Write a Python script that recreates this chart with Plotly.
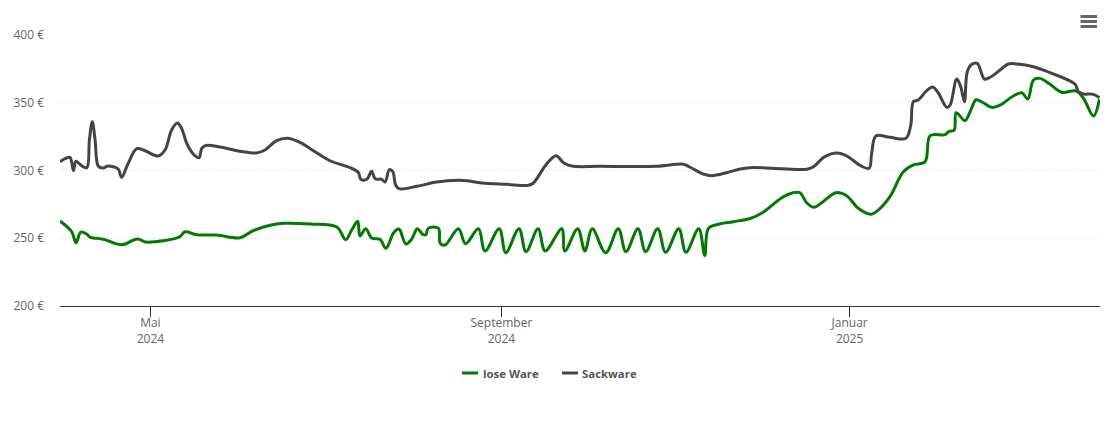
from datetime import datetime, timedelta
import plotly.graph_objects as go

START = datetime(2024, 3, 30, 8)
END_DAY = 364.4

sack_days = [0,1.8,3.5,4.7,5.6,7.6,9.4,10.3,11.3,12.3,13.4,15.2,16.4,18.6,20.4,21.6,23.9,26.9,29.8,34.4,
 36.8,39.1,41.1,42.6,44.4,46.7,48.7,49.7,51.4,56.1,63.1,68.9,71.8,75.9,79.6,84.1,88.8,94.6,101.6,104.5,
 105.4,107.5,109.2,110.4,112.7,113.9,115.4,116.6,117.6,118.8,125,132,139.6,142.5,147.8,156.5,164.1,165.8,170.5,173.8,
 176.4,179.3,189.2,209.1,218.4,220.8,225.4,228.4,233.6,238.3,241.8,253.4,261.6,264,268,272.2,275.7,280.3,283.5,284.4,
 285.9,290.8,296.4,298.1,299,300.7,303.7,305.8,307.8,310.7,311.9,314.2,315.6,316.9,317.9,319.5,321.4,323.9,325.9,329.4,
 332.3,335.3,341.1,346.9,355.7,356.8,358.6,362.1,364.2]
sack_vals = [306.5,308.7,309.7,299.9,306.8,303.5,302.1,322.5,336,322.5,303.3,301.8,303.1,302.8,301.1,295,305.3,316.1,314.6,310.7,
 315.1,329.9,335.1,331.1,320.1,312.2,309.4,316.4,318.6,317.3,314.2,312.9,315.1,322,323.8,320.8,314.6,307.2,302.1,298.7,
 293.5,293.5,299.4,293.9,293.5,291.5,300.6,299.1,289.3,286.6,288.3,291.5,292.8,292.5,290.8,289.8,289.1,290.6,304.8,310.9,
 305.8,303.3,303.1,303.1,304.6,302.4,297.4,296.2,298.4,301.1,302.1,301.3,300.9,302.8,310.2,312.9,310.7,303.8,301.6,312.7,
 325.5,324.5,323.8,333.6,350.8,352,358.9,361.6,357,346.6,348.3,367.5,361.8,350.8,372.9,378.4,379.1,367.5,368.8,374.2,
 378.6,378.6,376.6,372.2,363.6,358.2,356.5,356.2,353.7]

lose_days = [0,4.1,5.6,7.3,9.4,10.5,15.2,21.6,27.1,30.1,36.2,41.8,43.8,47.9,54.9,63.1,67.7,73.6,78.2,87.6,
 97,100.1,102.2,104.3,105.1,107.1,109.2,112.1,114.2,116.8,118.5,119.1,121.2,123.2,125.2,127.1,128.2,129,132.6,133.2,
 134.9,139.6,142.1,146.6,148.9,153.9,156.2,160.8,163.3,167.5,170,175.8,176.9,181.4,183.9,186.5,191.2,195.6,198.3,202.5,
 205.2,209.4,212.2,216.8,219.3,223.8,225.9,227.2,230.7,235.9,241.8,246.4,252.9,256.9,259.3,261.6,264.2,266.9,271.9,275.7,
 279.7,284,286.7,290.8,295.5,299,303.1,304.9,310.1,311.5,313.3,314,317.1,318.9,321,323.5,326.5,329.4,334,337,
 339.1,341.1,343.4,346.9,351,356,358.6,362.1,364.2]
lose_vals = [262.7,254.8,246.7,254.6,252.9,250.9,249.2,245.2,249.4,247.2,248.2,250.9,254.8,252.6,252.4,250.4,255.6,259.6,261,260.5,
 258.3,248.9,256.1,262.5,251.7,257,250.2,249.2,242.6,253.7,256.8,256.1,245.8,249.2,257,252.9,252.6,257.3,257.3,246.3,
 245,257,246,257,240.6,257,239.3,257,240.1,257,240.6,257,240.6,257,240.6,257,239.3,257,240.1,257,
 240.1,257,239.7,257,239.7,257,237.1,257.3,260.3,262.2,264.6,269.2,279.9,283.6,283.6,276.2,272.8,276.2,283.6,281.2,
 272.1,267.7,270.8,280.7,299.1,304.1,306.5,325.7,326.4,328.9,329.7,342.7,336.8,343.4,352.2,350,346.6,348.3,355,357.4,
 352.8,366.8,368,363.6,357.7,358.7,353.3,340.2,352.5]

y_ticks = [200, 250, 300, 350, 400]
y_labels = ["200 €", "250 €", "300 €", "350 €", "400 €"]
x_ticks = ["2024-05-01", "2024-09-01", "2025-01-01"]
x_labels = ["Mai<br>2024", "September<br>2024", "Januar<br>2025"]
series_names = ["lose Ware", "Sackware"]
series_colors = ["#007a00", "#444444"]

FONT = "Open Sans"
TEXT = "#666666"

# The page keeps its default 8px body margin, so the figure starts at (8, 8).
PAGE = 8
FIG_W, FIG_H = 1094, 407
LEFT, RIGHT, TOP, BOTTOM = 60, 1100, 35, 306


def to_dates(days):
    return [START + timedelta(days=d) for d in days]


def px_x(px):
    return (px - LEFT) / (RIGHT - LEFT)


def px_y(px):
    return (BOTTOM - px) / (BOTTOM - TOP)


fig = go.Figure()
fig.add_trace(go.Scatter(x=to_dates(lose_days), y=lose_vals, name=series_names[0], mode="lines",
                         line=dict(color=series_colors[0], width=3, shape="spline", smoothing=1.0)))
fig.add_trace(go.Scatter(x=to_dates(sack_days), y=sack_vals, name=series_names[1], mode="lines",
                         line=dict(color=series_colors[1], width=3, shape="spline", smoothing=1.0)))

menu = [dict(type="line", xref="paper", yref="paper", x0=px_x(1080.5), x1=px_x(1097),
             y0=px_y(yy), y1=px_y(yy), line=dict(color="#666666", width=3))
        for yy in (16.5, 21.5, 26.5)]
legend_lines = [dict(type="line", xref="paper", yref="paper", x0=px_x(x0), x1=px_x(x0 + 16),
                     y0=px_y(373), y1=px_y(373), line=dict(color=c, width=3))
                for x0, c in zip((462, 562), series_colors)]
legend_text = [dict(xref="paper", yref="paper", x=px_x(x0), y=px_y(373), xanchor="left", yanchor="middle",
                    text=f"<b>{n}</b>", showarrow=False,
                    font=dict(family=FONT, size=11.4, color="#555555"))
               for x0, n in zip((481, 580), series_names)]

fig.update_layout(
    width=FIG_W, height=FIG_H, autosize=False,
    margin=dict(l=LEFT - PAGE, r=PAGE + FIG_W - RIGHT, t=TOP - PAGE, b=PAGE + FIG_H - BOTTOM, pad=0),
    paper_bgcolor="white", plot_bgcolor="white",
    font=dict(family=FONT, size=12, color=TEXT),
    showlegend=False,
    xaxis=dict(range=[START, START + timedelta(days=END_DAY)], tickmode="array",
               tickvals=x_ticks, ticktext=x_labels, ticks="outside", ticklen=10,
               tickcolor="#333333", tickwidth=1, showline=True, linecolor="#333333",
               linewidth=1, showgrid=False, zeroline=False, ticklabelstandoff=-4,
               tickfont=dict(family=FONT, size=12, color=TEXT)),
    yaxis=dict(range=[200, 400], tickmode="array", tickvals=y_ticks, ticktext=y_labels,
               showgrid=True, gridcolor="#dddddd", griddash="1px,2px", gridwidth=1,
               zeroline=False, showline=False, ticks="", ticklabelstandoff=15,
               tickfont=dict(family=FONT, size=12, color=TEXT)),
    shapes=menu + legend_lines,
    annotations=legend_text,
)

fig.write_html("out.html", config=dict(displayModeBar=False, responsive=False))
